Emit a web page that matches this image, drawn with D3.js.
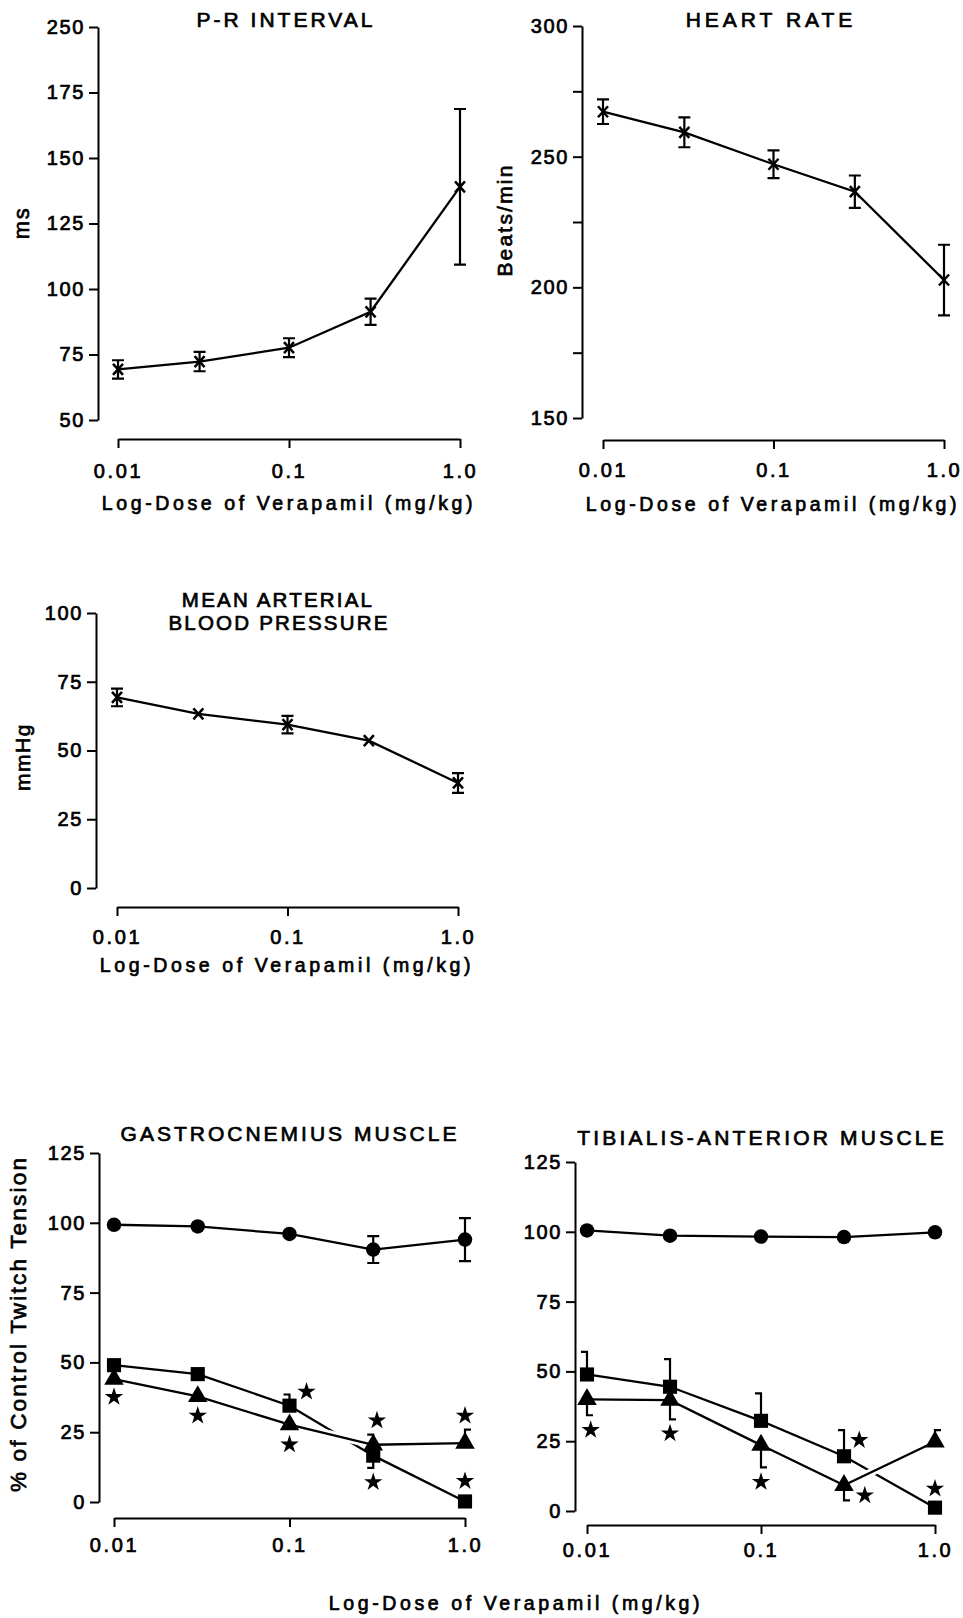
<!DOCTYPE html>
<html>
<head>
<meta charset="utf-8">
<script src="https://cdn.jsdelivr.net/npm/d3@7"></script>
<style>
  body { margin: 0; background: #fff; }
  text { font-family: "Liberation Sans", Arial, Helvetica, sans-serif; fill: #000; stroke: #000; stroke-width: 0.7px; }
</style>
</head>
<body>
<div id="chart"></div>
<script>
// doses (mg/kg) shared by every panel
var doses = [0.01, 0.03, 0.1, 0.3, 1.0];
var xTicks = [0.01, 0.1, 1.0];
var xTickLabels = ["0.01", "0.1", "1.0"];

// P-R interval (ms)  -- top tick is printed "250" in the original
var prMean = [69.3, 72.3, 77.6, 91.3, 139.0];
var prErr = [3.5, 3.7, 3.6, 5.0, 29.7];
var prTicks = [50, 75, 100, 125, 150, 175, 200];
var prTickLabels = ["50", "75", "100", "125", "150", "175", "250"];

// heart rate (beats/min)
var hrMean = [267.2, 259.3, 247.1, 236.6, 202.8];
var hrErr = [4.7, 5.7, 5.3, 6.2, 13.5];
var hrTicks = [150, 175, 200, 225, 250, 275, 300];
var hrTickLabels = ["150", "", "200", "", "250", "", "300"];

// mean arterial blood pressure (mmHg)
var mapMean = [69.3, 63.3, 59.4, 53.6, 38.2];
var mapErr = [3.2, 0, 3.2, 0, 3.6];
var mapTicks = [0, 25, 50, 75, 100];
var mapTickLabels = ["0", "25", "50", "75", "100"];

// twitch tension, % of control
var muscleTicks = [0, 25, 50, 75, 100, 125];
var muscleTickLabels = ["0", "25", "50", "75", "100", "125"];

var gasCircle = [99.3, 98.7, 96.0, 90.4, 94.0];
var gasCircleErr = [0, 0, 0, 4.8, 7.7];
var gasSquare = [49.0, 45.8, 34.5, 16.6, 0.2];
var gasSquareUp = [0, 0, 4.0, 7.5, 0];
var gasSquareDown = [0, 0, 0, 4.4, 0];
var gasTriangle = [44.0, 37.8, 27.7, 20.5, 21.1];
var gasTriangleUp = [0, 0, 0, 0, 4.8];
var gasStarDose = [0.01, 0.03, 0.125, 0.1, 0.315, 0.3, 1.0, 1.0];
var gasStarValue = [37.6, 30.9, 39.5, 20.6, 29.2, 7.1, 30.9, 7.5];

var tibCircle = [100.5, 98.6, 98.3, 98.1, 99.8];
var tibSquare = [48.9, 44.5, 32.3, 19.6, 1.2];
var tibSquareUp = [8.1, 9.9, 9.8, 9.4, 0];
var tibTriangle = [40.0, 39.7, 23.6, 9.2, 24.8];
var tibTriangleUp = [0, 0, 0, 0, 4.2];
var tibTriangleDown = [5.7, 6.9, 8.0, 5.4, 0];
var tibStarDose = [0.0105, 0.03, 0.1, 0.367, 0.395, 1.0];
var tibStarValue = [29.0, 27.8, 10.4, 25.4, 5.6, 8.0];

var svgWidth = 963, svgHeight = 1618;

var svg = d3.select("#chart")
  .append("svg")
  .attr("width", svgWidth)
  .attr("height", svgHeight);

// shared axis/text helpers
function styleAxis(sel, fontSize, spacing) {
  sel.attr("font-size", null).attr("font-family", null);
  sel.select(".domain").attr("stroke", "#000").attr("stroke-width", 2);
  sel.selectAll(".tick line").attr("stroke", "#000").attr("stroke-width", 2);
  sel.selectAll(".tick text")
    .attr("fill", "#000")
    .style("font-size", fontSize + "px")
    .style("letter-spacing", spacing + "px");
}

function label(g, txt, x, y, size, spacing, rotate) {
  var t = g.append("text")
    .attr("text-anchor", "middle")
    .attr("dy", "0.36em")
    .style("font-size", size + "px")
    .style("letter-spacing", spacing + "px")
    .text(txt);
  if (rotate) t.attr("transform", `translate(${x},${y}) rotate(-90)`);
  else t.attr("x", x).attr("y", y);
  return t;
}

function makePanel(p) {
  var g = svg.append("g");
  var y = d3.scaleLinear().domain([p.ticks[0], p.ticks[p.ticks.length - 1]]).range([p.bottom, p.top]);
  var x = d3.scaleLog().domain([0.01, 1]).range([p.xLeft, p.xRight]);

  var yAxis = d3.axisLeft(y)
    .tickValues(p.ticks)
    .tickFormat(function (d, i) { return p.tickLabels[i]; })
    .tickSize(9).tickSizeOuter(0).tickPadding(4);
  g.append("g")
    .attr("transform", `translate(${p.left},0)`)
    .call(yAxis)
    .call(styleAxis, 20, 1.6);

  var xAxis = d3.axisBottom(x)
    .tickValues(xTicks)
    .tickFormat(function (d, i) { return xTickLabels[i]; })
    .tickSize(9).tickSizeOuter(0).tickPadding(p.xPad);
  g.append("g")
    .attr("transform", `translate(0,${p.xAxisY})`)
    .call(xAxis)
    .call(styleAxis, 20, 2.6);

  return { g: g, x: x, y: y };
}

// line through the means; halo=true draws a white band under it so crossed lines get a gap
function drawLine(P, means, halo) {
  var pts = doses.map(function (d, i) { return [d, means[i]]; });
  var line = d3.line().x(function (d) { return P.x(d[0]); }).y(function (d) { return P.y(d[1]); });
  if (halo) {
    P.g.append("path").attr("d", line(pts)).attr("fill", "none")
      .attr("stroke", "#fff").attr("stroke-width", 8);
  }
  P.g.append("path").attr("d", line(pts)).attr("fill", "none")
    .attr("stroke", "#000").attr("stroke-width", 2.3);
}

// full I-beam error bars
function drawBars(P, means, errs, cap) {
  doses.forEach(function (d, i) {
    if (!errs[i]) return;
    var cx = P.x(d), y1 = P.y(means[i] + errs[i]), y2 = P.y(means[i] - errs[i]);
    P.g.append("path")
      .attr("d", `M${cx},${y1}V${y2}M${cx - cap},${y1}H${cx + cap}M${cx - cap},${y2}H${cx + cap}`)
      .attr("stroke", "#000").attr("stroke-width", 2.2).attr("fill", "none");
  });
}

// one-sided bracket error bars (dir = -1 cap to the left, +1 to the right)
function drawHalfBars(P, means, errs, sign, dir) {
  doses.forEach(function (d, i) {
    if (!errs[i]) return;
    var cx = P.x(d), y0 = P.y(means[i]), y1 = P.y(means[i] + sign * errs[i]);
    P.g.append("path")
      .attr("d", `M${cx},${y0}V${y1}H${cx + dir * 6}`)
      .attr("stroke", "#000").attr("stroke-width", 2.2).attr("fill", "none");
  });
}

function drawCrosses(P, means) {
  P.g.selectAll(null).data(doses).enter().append("path")
    .attr("transform", function (d, i) { return `translate(${P.x(d)},${P.y(means[i])})`; })
    .attr("d", "M-5,-5.5L5,5.5M-5,5.5L5,-5.5")
    .attr("stroke", "#000").attr("stroke-width", 2.5).attr("fill", "none");
}

function drawSymbols(P, means, type, size) {
  P.g.selectAll(null).data(doses).enter().append("path")
    .attr("transform", function (d, i) { return `translate(${P.x(d)},${P.y(means[i])})`; })
    .attr("d", d3.symbol().type(type).size(size))
    .attr("fill", "#000");
}

function drawStars(P, dose, value) {
  P.g.selectAll(null).data(dose).enter().append("path")
    .attr("transform", function (d, i) { return `translate(${P.x(d)},${P.y(value[i])})`; })
    .attr("d", d3.symbol().type(d3.symbolStar).size(105))
    .attr("fill", "#000");
}

// ---- P-R interval
var pr = makePanel({ left: 98, top: 27, bottom: 420, ticks: prTicks, tickLabels: prTickLabels,
  xAxisY: 439, xLeft: 118, xRight: 460, xPad: 16 });
drawLine(pr, prMean, false);
drawBars(pr, prMean, prErr, 6);
drawCrosses(pr, prMean);
label(svg, "P-R INTERVAL", 286, 19, 21, 3);
label(svg, "ms", 21, 223, 22, 1.5, true);
label(svg, "Log-Dose of Verapamil (mg/kg)", 289, 503, 19.5, 3.6);

// ---- heart rate
var hr = makePanel({ left: 582, top: 26, bottom: 418, ticks: hrTicks, tickLabels: hrTickLabels,
  xAxisY: 440, xLeft: 603, xRight: 944, xPad: 14 });
drawLine(hr, hrMean, false);
drawBars(hr, hrMean, hrErr, 6);
drawCrosses(hr, hrMean);
label(svg, "HEART RATE", 771, 19, 21, 4);
label(svg, "Beats/min", 504, 220, 21, 2.2, true);
label(svg, "Log-Dose of Verapamil (mg/kg)", 773, 504, 19.5, 3.6);

// ---- mean arterial blood pressure
var mp = makePanel({ left: 96, top: 613, bottom: 888, ticks: mapTicks, tickLabels: mapTickLabels,
  xAxisY: 907, xLeft: 117, xRight: 458, xPad: 14 });
drawLine(mp, mapMean, false);
drawBars(mp, mapMean, mapErr, 6);
drawCrosses(mp, mapMean);
label(svg, "MEAN ARTERIAL", 278, 600, 20.5, 2.2);
label(svg, "BLOOD PRESSURE", 279, 623, 20.5, 2.2);
label(svg, "mmHg", 22, 757, 21, 1.5, true);
label(svg, "Log-Dose of Verapamil (mg/kg)", 287, 965, 19.5, 3.6);

// ---- gastrocnemius
var gas = makePanel({ left: 99, top: 1153, bottom: 1502, ticks: muscleTicks, tickLabels: muscleTickLabels,
  xAxisY: 1518, xLeft: 114, xRight: 465, xPad: 11 });
drawLine(gas, gasCircle, false);
drawLine(gas, gasSquare, false);
drawLine(gas, gasTriangle, true);
drawBars(gas, gasCircle, gasCircleErr, 6);
drawHalfBars(gas, gasSquare, gasSquareUp, 1, -1);
drawHalfBars(gas, gasSquare, gasSquareDown, -1, -1);
drawHalfBars(gas, gasTriangle, gasTriangleUp, 1, 1);
drawSymbols(gas, gasCircle, d3.symbolCircle, 165);
drawSymbols(gas, gasSquare, d3.symbolSquare, 200);
drawSymbols(gas, gasTriangle, d3.symbolTriangle, 165);
drawStars(gas, gasStarDose, gasStarValue);
label(svg, "GASTROCNEMIUS MUSCLE", 290, 1133, 21, 3);
label(svg, "% of Control Twitch Tension", 18, 1324, 22.5, 2.2, true);

// ---- tibialis-anterior
var tib = makePanel({ left: 575, top: 1162, bottom: 1511, ticks: muscleTicks, tickLabels: muscleTickLabels,
  xAxisY: 1525, xLeft: 587, xRight: 935, xPad: 9 });
drawLine(tib, tibCircle, false);
drawLine(tib, tibSquare, false);
drawLine(tib, tibTriangle, true);
drawHalfBars(tib, tibSquare, tibSquareUp, 1, -1);
drawHalfBars(tib, tibTriangle, tibTriangleDown, -1, 1);
drawHalfBars(tib, tibTriangle, tibTriangleUp, 1, 1);
drawSymbols(tib, tibCircle, d3.symbolCircle, 165);
drawSymbols(tib, tibSquare, d3.symbolSquare, 200);
drawSymbols(tib, tibTriangle, d3.symbolTriangle, 165);
drawStars(tib, tibStarDose, tibStarValue);
label(svg, "TIBIALIS-ANTERIOR MUSCLE", 762, 1137, 21, 3.2);

// shared x title for the muscle panels
label(svg, "Log-Dose of Verapamil (mg/kg)", 516, 1603, 19.5, 3.6);
</script>
</body>
</html>
